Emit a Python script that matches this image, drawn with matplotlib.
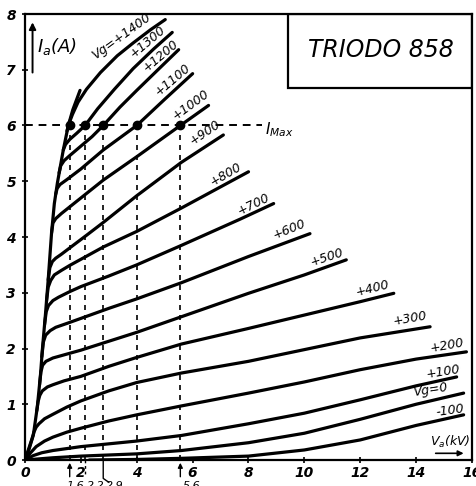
import matplotlib
matplotlib.use("Agg")
from matplotlib import pyplot as plt
from matplotlib.patches import Rectangle

# envelope (saturation line) of the anode characteristics
env_x = [0, 0.15, 0.3, 0.44, 0.55, 0.63, 0.73, 0.83, 0.95, 1.05, 1.16, 1.37, 1.55, 1.71, 1.97]
env_y = [0, 0.2, 0.45, 0.95, 1.5, 2.03, 2.6, 3.23, 4.07, 4.6, 4.97, 5.56, 6.0, 6.28, 6.63]

# anode current Ia (A) against anode voltage Va (kV) for each grid voltage
curvas = {
    -100: ([2.3, 4, 5.6, 8, 10, 12, 14, 15.7],
           [0, 0.01, 0.03, 0.07, 0.18, 0.36, 0.62, 0.81]),
    0: ([0, 1, 2, 4, 5.6, 8, 10, 12, 14, 15.7],
        [0, 0.04, 0.07, 0.11, 0.17, 0.31, 0.48, 0.73, 1.0, 1.2]),
    100: ([0, 0.3, 0.6, 1, 2, 3, 4, 5.6, 8, 10, 12, 14, 15.45],
          [0, 0.08, 0.13, 0.17, 0.24, 0.29, 0.34, 0.44, 0.65, 0.84, 1.08, 1.33, 1.49]),
    200: ([0, 0.2, 0.4, 0.7, 1, 1.5, 2, 3, 4, 5.6, 8, 10, 12, 14, 15.8],
          [0, 0.13, 0.24, 0.34, 0.41, 0.5, 0.57, 0.7, 0.81, 0.97, 1.2, 1.4, 1.62, 1.81, 1.94]),
    300: ([0, 0.25, 0.32, 0.4, 0.5, 0.7, 1, 1.5, 2, 3, 4, 5.6, 8, 10, 12, 14.5],
          [0, 0.38, 0.5, 0.59, 0.65, 0.74, 0.82, 0.95, 1.06, 1.24, 1.39, 1.56, 1.77, 1.98, 2.19, 2.39]),
    400: ([0.42, 0.47, 0.53, 0.62, 0.8, 1.0, 1.4, 2, 3, 4, 5.6, 8, 10, 12, 13.2],
          [0.88, 1.05, 1.16, 1.24, 1.31, 1.35, 1.42, 1.5, 1.68, 1.84, 2.08, 2.36, 2.6, 2.84, 2.99]),
    500: ([0.52, 0.57, 0.63, 0.75, 1.0, 1.5, 2, 3, 4, 5.6, 8, 10, 11.5],
          [1.35, 1.58, 1.7, 1.77, 1.83, 1.9, 1.97, 2.13, 2.29, 2.57, 2.99, 3.32, 3.59]),
    600: ([0.6, 0.66, 0.74, 0.9, 1.1, 1.5, 2, 3, 4, 5.6, 8, 10.2],
          [1.85, 2.12, 2.24, 2.32, 2.38, 2.45, 2.54, 2.72, 2.89, 3.18, 3.65, 4.06]),
    700: ([0.7, 0.76, 0.84, 1.0, 1.2, 1.6, 2, 3, 4, 5.6, 7.7, 8.9],
          [2.43, 2.66, 2.77, 2.86, 2.92, 3.02, 3.11, 3.3, 3.5, 3.85, 4.32, 4.6]),
    800: ([0.77, 0.83, 0.92, 1.05, 1.3, 1.6, 2, 2.8, 4, 5.6, 8.0],
          [2.85, 3.1, 3.22, 3.32, 3.4, 3.49, 3.6, 3.82, 4.1, 4.52, 5.17]),
    900: ([0.83, 0.89, 0.98, 1.1, 1.3, 1.67, 2.2, 2.8, 4, 5.6, 7.1],
          [3.23, 3.45, 3.56, 3.62, 3.69, 3.83, 4.03, 4.26, 4.74, 5.34, 5.83]),
    1000: ([0.95, 1.0, 1.1, 1.3, 1.5, 2, 2.8, 4, 5.56, 6.57],
           [4.07, 4.25, 4.33, 4.42, 4.5, 4.7, 5.02, 5.44, 6.0, 6.36]),
    1100: ([1.1, 1.15, 1.25, 1.5, 2, 2.8, 4.0, 5.0, 6.0],
           [4.77, 4.87, 4.94, 5.03, 5.22, 5.56, 6.0, 6.47, 6.93]),
    1200: ([1.22, 1.28, 1.4, 1.6, 2.0, 2.4, 2.8, 3.4, 4.0, 4.8, 5.5],
           [5.15, 5.28, 5.37, 5.46, 5.63, 5.8, 6.0, 6.33, 6.63, 7.02, 7.36]),
    1300: ([1.37, 1.45, 1.6, 1.85, 2.15, 2.6, 3.2, 3.87, 4.6, 5.27],
           [5.56, 5.66, 5.75, 5.86, 6.0, 6.3, 6.65, 7.02, 7.37, 7.67]),
    1400: ([1.5, 1.57, 1.7, 1.9, 2.2, 2.7, 3.3, 3.87, 4.5, 5.02],
           [5.9, 6.03, 6.2, 6.42, 6.65, 6.95, 7.25, 7.48, 7.72, 7.9]),
}

# labels: text, x, y, rotation
rotulos = [
    ("Vg=+1400", 3.45, 7.6, 36), ("+1300", 4.4, 7.5, 40), ("+1200", 4.85, 7.25, 40),
    ("+1100", 5.3, 6.83, 40), ("+1000", 5.95, 6.38, 36), ("+900", 6.45, 5.87, 34),
    ("+800", 7.2, 5.12, 30), ("+700", 8.2, 4.58, 26), ("+600", 9.45, 4.14, 22),
    ("+500", 10.8, 3.63, 18), ("+400", 12.45, 3.07, 14), ("+300", 13.8, 2.53, 10),
    ("+200", 15.1, 2.05, 10), ("+100", 14.95, 1.58, 9), ("Vg=0", 14.5, 1.25, 9),
    ("-100", 15.2, 0.88, 8),
]

# points where the curves reach I max = 6 A
va_imax = [1.6, 2.15, 2.8, 4.0, 5.56]
i_max = 6
vals_baixo = [("1,6", 1.8), ("2,2", 2.55), ("2,9", 3.2), ("5,6", 5.95)]

xticks = [0, 2, 4, 6, 8, 10, 12, 14, 16]
yticks = [0, 1, 2, 3, 4, 5, 6, 7, 8]

fig = plt.figure(figsize=(4.77, 4.86), dpi=100)
ax = fig.add_axes([25 / 477, 26 / 486, 447 / 477, 446 / 486])
ax.set_xlim(0, 16)
ax.set_ylim(0, 8)

for s in ax.spines.values():
    s.set_linewidth(1.6)

ax.set_xticks(xticks)
ax.set_yticks(yticks)
ax.set_xticklabels([str(t) for t in xticks], fontstyle='italic', fontweight='bold', fontsize=10)
ax.set_yticklabels([str(t) for t in yticks], fontstyle='italic', fontweight='bold', fontsize=10)
ax.tick_params(direction='inout', length=5, width=1.2, pad=2)
ax.tick_params(axis='y', pad=4)

ax.plot(env_x, env_y, color='black', lw=2.3, solid_capstyle='round', solid_joinstyle='round')
for vg, (xs, ys) in curvas.items():
    ax.plot(xs, ys, color='black', lw=2.3, solid_capstyle='round', solid_joinstyle='round')

for txt, x, y, rot in rotulos:
    ax.text(x, y, txt, rotation=rot, fontsize=9, fontstyle='italic',
            ha='center', va='center', rotation_mode='anchor')

# I max line and the verticals
ax.plot([0, 8.5], [i_max, i_max], color='black', lw=1.4, ls=(0, (4, 3)))
ax.text(8.6, i_max - 0.08, r'$I_{Max}$', fontsize=11, va='center', fontstyle='italic')
for v in va_imax:
    ax.plot([v, v], [0, i_max], color='black', lw=1.2, ls=(0, (3, 3)))
ax.plot(va_imax, [i_max] * len(va_imax), 'o', color='black', ms=6)

for v in [va_imax[0], va_imax[-1]]:
    ax.annotate('', xy=(v, 0), xytext=(v, -0.35), annotation_clip=False,
                arrowprops=dict(arrowstyle='-|>', color='black', lw=1, mutation_scale=7))
ax.plot([va_imax[1], va_imax[1]], [0, -0.25], color='black', lw=1, ls=(0, (2, 2)), clip_on=False)
ax.plot([va_imax[2], va_imax[2], va_imax[2] + 0.2], [0, -0.33, -0.4], color='black', lw=1, clip_on=False)
for t, xpos in vals_baixo:
    ax.text(xpos, -0.37, t, fontsize=8, fontstyle='italic', ha='center', va='top',
            clip_on=False)

# title box
ax.add_patch(Rectangle((9.4, 6.68), 6.6, 1.32, fill=False, lw=1.6, color='black'))
ax.text(12.75, 7.35, "TRIODO 858", fontsize=17, fontstyle='italic', ha='center', va='center')

# axis labels
ax.annotate('', xy=(0.27, 7.9), xytext=(0.27, 6.9),
            arrowprops=dict(arrowstyle='-|>', color='black', lw=1.4, mutation_scale=10))
ax.text(0.42, 7.42, r'$I_a$(A)', fontsize=13, fontstyle='italic', va='center')
ax.text(14.5, 0.33, r'$V_a$(kV)', fontsize=9, fontstyle='italic', va='center')
ax.annotate('', xy=(15.8, 0.12), xytext=(14.6, 0.12),
            arrowprops=dict(arrowstyle='-|>', color='black', lw=1.2, mutation_scale=8))

fig.savefig('out.png', dpi=100)
